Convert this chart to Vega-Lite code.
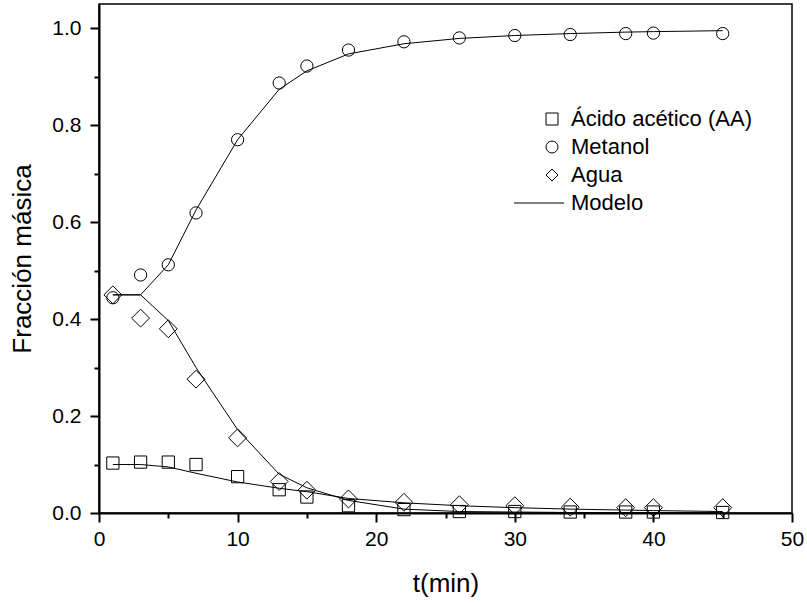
{
  "$schema": "https://vega.github.io/schema/vega-lite/v6.json",
  "width": 693,
  "height": 509,
  "autosize": {"type": "none"},
  "padding": {"left": 99, "top": 4, "right": 15, "bottom": 90},
  "background": "white",
  "config": {
    "font": "Liberation Sans",
    "view": {"stroke": "black", "strokeWidth": 1.5},
    "axis": {"domainColor": "black", "tickColor": "black", "labelColor": "black", "titleColor": "black", "grid": false, "domainWidth": 2, "tickWidth": 2, "labelFont": "Liberation Sans", "titleFont": "Liberation Sans", "titleFontWeight": "normal"}
  },
  "datasets": {
    "exp": [
      {"t": 1, "serie": "Ácido acético (AA)", "v": 0.103},
      {"t": 3, "serie": "Ácido acético (AA)", "v": 0.105},
      {"t": 5, "serie": "Ácido acético (AA)", "v": 0.105},
      {"t": 7, "serie": "Ácido acético (AA)", "v": 0.100},
      {"t": 10, "serie": "Ácido acético (AA)", "v": 0.075},
      {"t": 13, "serie": "Ácido acético (AA)", "v": 0.048},
      {"t": 15, "serie": "Ácido acético (AA)", "v": 0.033},
      {"t": 18, "serie": "Ácido acético (AA)", "v": 0.015},
      {"t": 22, "serie": "Ácido acético (AA)", "v": 0.007},
      {"t": 26, "serie": "Ácido acético (AA)", "v": 0.003},
      {"t": 30, "serie": "Ácido acético (AA)", "v": 0.003},
      {"t": 34, "serie": "Ácido acético (AA)", "v": 0.002},
      {"t": 38, "serie": "Ácido acético (AA)", "v": 0.002},
      {"t": 40, "serie": "Ácido acético (AA)", "v": 0.002},
      {"t": 45, "serie": "Ácido acético (AA)", "v": 0.001},
      {"t": 1, "serie": "Metanol", "v": 0.444},
      {"t": 3, "serie": "Metanol", "v": 0.491},
      {"t": 5, "serie": "Metanol", "v": 0.512},
      {"t": 7, "serie": "Metanol", "v": 0.619},
      {"t": 10, "serie": "Metanol", "v": 0.770},
      {"t": 13, "serie": "Metanol", "v": 0.887},
      {"t": 15, "serie": "Metanol", "v": 0.922},
      {"t": 18, "serie": "Metanol", "v": 0.955},
      {"t": 22, "serie": "Metanol", "v": 0.972},
      {"t": 26, "serie": "Metanol", "v": 0.980},
      {"t": 30, "serie": "Metanol", "v": 0.985},
      {"t": 34, "serie": "Metanol", "v": 0.987},
      {"t": 38, "serie": "Metanol", "v": 0.989},
      {"t": 40, "serie": "Metanol", "v": 0.990},
      {"t": 45, "serie": "Metanol", "v": 0.989},
      {"t": 1, "serie": "Agua", "v": 0.450},
      {"t": 3, "serie": "Agua", "v": 0.402},
      {"t": 5, "serie": "Agua", "v": 0.380},
      {"t": 7, "serie": "Agua", "v": 0.276},
      {"t": 10, "serie": "Agua", "v": 0.155},
      {"t": 13, "serie": "Agua", "v": 0.065},
      {"t": 15, "serie": "Agua", "v": 0.047},
      {"t": 18, "serie": "Agua", "v": 0.029},
      {"t": 22, "serie": "Agua", "v": 0.022},
      {"t": 26, "serie": "Agua", "v": 0.017},
      {"t": 30, "serie": "Agua", "v": 0.015},
      {"t": 34, "serie": "Agua", "v": 0.012},
      {"t": 38, "serie": "Agua", "v": 0.011},
      {"t": 40, "serie": "Agua", "v": 0.011},
      {"t": 45, "serie": "Agua", "v": 0.011}
    ],
    "modelo": [
      {"t": 1, "comp": "AA", "v": 0.100},
      {"t": 3, "comp": "AA", "v": 0.100},
      {"t": 5, "comp": "AA", "v": 0.095},
      {"t": 7, "comp": "AA", "v": 0.082},
      {"t": 10, "comp": "AA", "v": 0.064},
      {"t": 13, "comp": "AA", "v": 0.051},
      {"t": 15, "comp": "AA", "v": 0.044},
      {"t": 18, "comp": "AA", "v": 0.030},
      {"t": 22, "comp": "AA", "v": 0.021},
      {"t": 26, "comp": "AA", "v": 0.015},
      {"t": 30, "comp": "AA", "v": 0.011},
      {"t": 34, "comp": "AA", "v": 0.008},
      {"t": 38, "comp": "AA", "v": 0.006},
      {"t": 40, "comp": "AA", "v": 0.005},
      {"t": 45, "comp": "AA", "v": 0.003},
      {"t": 1, "comp": "Metanol", "v": 0.450},
      {"t": 3, "comp": "Metanol", "v": 0.450},
      {"t": 5, "comp": "Metanol", "v": 0.512},
      {"t": 7, "comp": "Metanol", "v": 0.625},
      {"t": 10, "comp": "Metanol", "v": 0.770},
      {"t": 13, "comp": "Metanol", "v": 0.874},
      {"t": 15, "comp": "Metanol", "v": 0.912},
      {"t": 18, "comp": "Metanol", "v": 0.947},
      {"t": 22, "comp": "Metanol", "v": 0.968},
      {"t": 26, "comp": "Metanol", "v": 0.979},
      {"t": 30, "comp": "Metanol", "v": 0.985},
      {"t": 34, "comp": "Metanol", "v": 0.989},
      {"t": 38, "comp": "Metanol", "v": 0.992},
      {"t": 40, "comp": "Metanol", "v": 0.993},
      {"t": 45, "comp": "Metanol", "v": 0.995},
      {"t": 1, "comp": "Agua", "v": 0.450},
      {"t": 3, "comp": "Agua", "v": 0.450},
      {"t": 5, "comp": "Agua", "v": 0.397},
      {"t": 7, "comp": "Agua", "v": 0.300},
      {"t": 10, "comp": "Agua", "v": 0.172},
      {"t": 13, "comp": "Agua", "v": 0.080},
      {"t": 15, "comp": "Agua", "v": 0.052},
      {"t": 18, "comp": "Agua", "v": 0.026},
      {"t": 22, "comp": "Agua", "v": 0.008},
      {"t": 26, "comp": "Agua", "v": 0.003},
      {"t": 30, "comp": "Agua", "v": 0.002},
      {"t": 34, "comp": "Agua", "v": 0.001},
      {"t": 38, "comp": "Agua", "v": 0.001},
      {"t": 40, "comp": "Agua", "v": 0.001},
      {"t": 45, "comp": "Agua", "v": 0.001}
    ]
  },
  "resolve": {"axis": {"x": "independent", "y": "independent"}},
  "layer": [
    {
      "data": {"name": "modelo"},
      "mark": {"type": "line", "color": "black", "strokeWidth": 1},
      "encoding": {
        "x": {"field": "t", "type": "quantitative", "scale": {"domain": [0, 50], "nice": false, "zero": false},
          "axis": {"orient": "bottom", "values": [0, 10, 20, 30, 40, 50], "format": "d", "title": "t(min)", "labelFontSize": 21, "titleFontSize": 26, "tickSize": 9, "labelPadding": 6, "titlePadding": 21, "labelFlush": false}},
        "y": {"field": "v", "type": "quantitative", "scale": {"domain": [0, 1.05], "nice": false, "zero": false},
          "axis": {"orient": "left", "values": [0, 0.2, 0.4, 0.6, 0.8, 1.0], "format": ".1f", "title": "Fracción másica", "labelFontSize": 21, "titleFontSize": 26, "tickSize": 9, "labelPadding": 9, "titlePadding": 16, "labelFlush": false}},
        "detail": {"field": "comp"}
      }
    },
    {
      "data": {"name": "exp"},
      "mark": {"type": "point", "filled": false, "color": "black", "strokeWidth": 1, "opacity": 1},
      "encoding": {
        "x": {"field": "t", "type": "quantitative",
          "axis": {"orient": "bottom", "values": [5, 15, 25, 35, 45], "labels": false, "domain": false, "title": null, "tickSize": 5}},
        "y": {"field": "v", "type": "quantitative",
          "axis": {"orient": "left", "values": [0.1, 0.3, 0.5, 0.7, 0.9], "labels": false, "domain": false, "title": null, "tickSize": 5}},
        "shape": {"field": "serie", "type": "nominal",
          "scale": {"domain": ["Ácido acético (AA)", "Metanol", "Agua", "Modelo"], "range": ["square", "circle", "diamond", "M-6.33,0H2"]},
          "legend": {"orient": "none", "legendX": 442, "legendY": 104, "title": null, "labelFontSize": 22, "labelFont": "Liberation Sans", "labelColor": "black", "labelOffset": 8, "labelLimit": 0, "rowPadding": 6, "padding": 0, "symbolSize": 144, "symbolStrokeColor": "black", "symbolFillColor": "transparent", "symbolStrokeWidth": 1}},
        "size": {"condition": {"test": "datum.serie == 'Agua'", "value": 320}, "value": 150}
      }
    }
  ]
}
